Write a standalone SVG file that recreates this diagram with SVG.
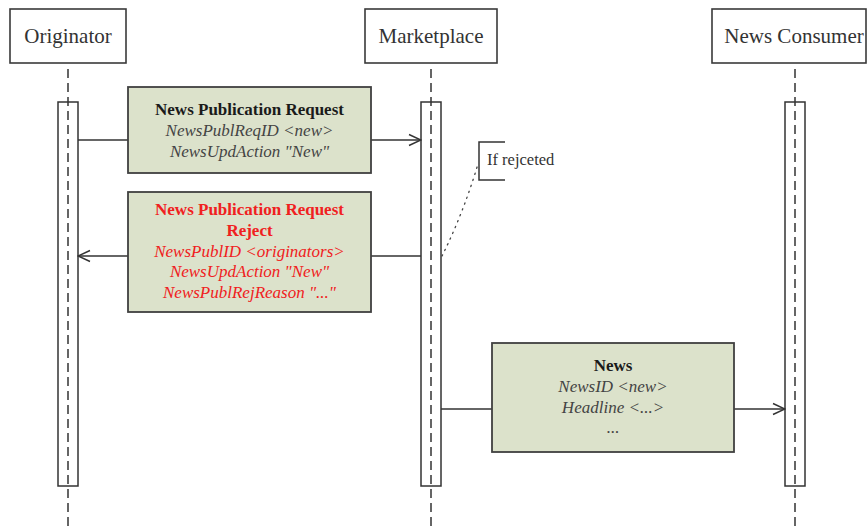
<svg xmlns="http://www.w3.org/2000/svg" width="867" height="530" viewBox="0 0 867 530">
  <defs>
    <style>
      .head { fill: #ffffff; stroke: #3a3a3a; stroke-width: 1.6; }
      .head-label { font-family: "Liberation Serif", "Times New Roman", serif; font-size: 21px; fill: #333333; text-anchor: middle; }
      .life { stroke: #333333; stroke-width: 1.5; stroke-dasharray: 9 5; fill: none; }
      .bar { fill: #ffffff; stroke: #333333; stroke-width: 1.5; }
      .msg { fill: #dce2cb; stroke: #404040; stroke-width: 1.8; }
      .title { font-family: "Liberation Serif", "Times New Roman", serif; font-size: 17px; font-weight: bold; fill: #1a1a1a; text-anchor: middle; }
      .field { font-family: "Liberation Serif", "Times New Roman", serif; font-size: 17px; font-style: italic; fill: #444444; text-anchor: middle; }
      .red { fill: #f02020; }
      .wire { stroke: #333333; stroke-width: 1.5; fill: none; }
      .note-text { font-family: "Liberation Serif", "Times New Roman", serif; font-size: 16.5px; fill: #333333; }
    </style>
    <marker id="open-arrow" viewBox="0 0 14 14" refX="13" refY="7" markerWidth="14" markerHeight="14" markerUnits="userSpaceOnUse" orient="auto">
      <path d="M1,1.5 L13,7 L1,12.5" fill="none" stroke="#333333" stroke-width="1.5"/>
    </marker>
  </defs>

  <!-- participants: header box plus activation bar -->
  <g id="originator">
    <rect class="head" x="10" y="9" width="116" height="54"/>
    <text class="head-label" x="68" y="43">Originator</text>
    <rect class="bar" x="58" y="102" width="20" height="384"/>
  </g>
  <g id="marketplace">
    <rect class="head" x="365" y="9" width="132" height="54"/>
    <text class="head-label" x="431" y="43">Marketplace</text>
    <rect class="bar" x="421" y="102" width="20" height="384"/>
  </g>
  <g id="news-consumer">
    <rect class="head" x="712" y="9" width="154" height="54"/>
    <text class="head-label" x="794" y="43">News Consumer</text>
    <rect class="bar" x="785" y="102" width="20" height="384"/>
  </g>

  <!-- lifelines, drawn over the activation bars -->
  <g id="lifelines">
    <line class="life" x1="68" y1="69" x2="68" y2="526"/>
    <line class="life" x1="431" y1="69" x2="431" y2="526"/>
    <line class="life" x1="795" y1="69" x2="795" y2="526"/>
  </g>

  <!-- connectors -->
  <g id="connectors">
    <line class="wire" x1="78" y1="140" x2="128" y2="140"/>
    <line class="wire" x1="371" y1="140" x2="421" y2="140" marker-end="url(#open-arrow)"/>
    <line class="wire" x1="421" y1="256" x2="371" y2="256"/>
    <line class="wire" x1="128" y1="256" x2="78" y2="256" marker-end="url(#open-arrow)"/>
    <line class="wire" x1="441" y1="409" x2="492" y2="409"/>
    <line class="wire" x1="734" y1="409" x2="785" y2="409" marker-end="url(#open-arrow)"/>
    <path d="M442,256 Q463,214 478,164" fill="none" stroke="#444444" stroke-width="1.3" stroke-dasharray="1.3 5" stroke-linecap="round"/>
  </g>

  <!-- messages -->
  <g id="msg-request">
    <rect class="msg" x="128" y="87" width="243" height="86"/>
    <text class="title" x="249.5" y="115">News Publication Request</text>
    <text class="field" x="249.5" y="136">NewsPublReqID &lt;new&gt;</text>
    <text class="field" x="249.5" y="157">NewsUpdAction "New"</text>
  </g>
  <g id="msg-reject">
    <rect class="msg" x="128" y="192" width="243" height="120"/>
    <text class="title red" x="249.5" y="215">News Publication Request</text>
    <text class="title red" x="249.5" y="236">Reject</text>
    <text class="field red" x="249.5" y="257">NewsPublID &lt;originators&gt;</text>
    <text class="field red" x="249.5" y="277">NewsUpdAction "New"</text>
    <text class="field red" x="249.5" y="298">NewsPublRejReason "..."</text>
  </g>
  <g id="msg-news">
    <rect class="msg" x="492" y="343" width="242" height="109"/>
    <text class="title" x="613" y="371">News</text>
    <text class="field" x="613" y="392">NewsID &lt;new&gt;</text>
    <text class="field" x="613" y="413">Headline &lt;...&gt;</text>
    <text class="field" x="613" y="433">...</text>
  </g>

  <!-- note -->
  <g id="note-rejected">
    <path d="M505,142 L479,142 L479,180 L505,180" fill="none" stroke="#333333" stroke-width="1.5"/>
    <text class="note-text" x="487" y="165">If rejceted</text>
  </g>
</svg>
